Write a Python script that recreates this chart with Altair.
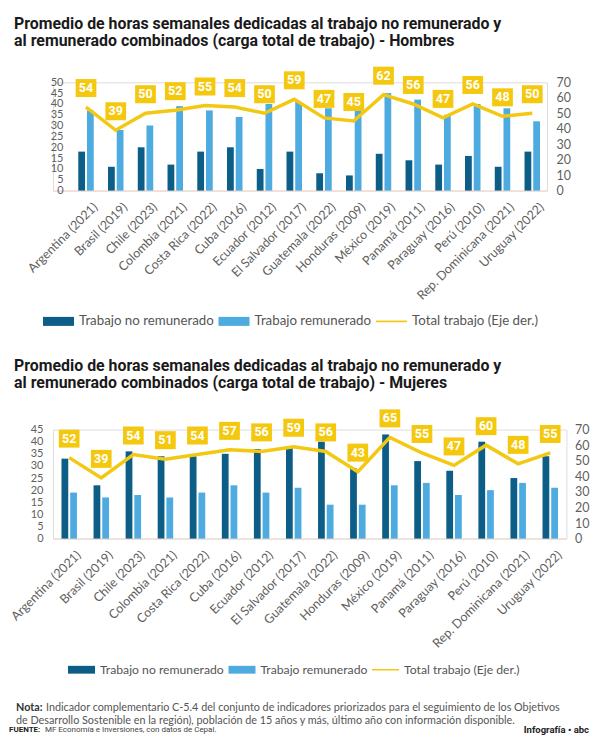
import altair as alt
import pandas as pd

countries = ["Argentina (2021)", "Brasil (2019)", "Chile (2023)", "Colombia (2021)",
             "Costa Rica (2022)", "Cuba (2016)", "Ecuador (2012)", "El Salvador (2017)",
             "Guatemala (2022)", "Honduras (2009)", "México (2019)", "Panamá (2011)",
             "Paraguay (2016)", "Perú (2010)", "Rep. Dominicana (2021)", "Uruguay (2022)"]

# Hombres
no_rem_h = [18, 11, 20, 12, 18, 20, 10, 18, 8, 7, 17, 14, 12, 16, 11, 18]
rem_h = [37, 28, 30, 39, 37, 34, 40, 41, 38, 37, 45, 42, 35, 40, 38, 32]
total_h = [54, 39, 50, 52, 55, 54, 50, 59, 47, 45, 62, 56, 47, 56, 48, 50]

# Mujeres
no_rem_m = [33, 22, 36, 34, 34, 35, 37, 38, 40, 29, 43, 32, 28, 40, 25, 34]
rem_m = [19, 17, 18, 17, 19, 22, 19, 21, 14, 14, 22, 23, 18, 20, 23, 21]
total_m = [52, 39, 54, 51, 54, 57, 56, 59, 56, 43, 65, 55, 47, 60, 48, 55]

left_ticks_h = [0, 5, 10, 15, 20, 25, 30, 35, 40, 45, 50]
left_ticks_m = [0, 5, 10, 15, 20, 25, 30, 35, 40, 45]
right_ticks = [0, 10, 20, 30, 40, 50, 60, 70]

S_NO = "Trabajo no remunerado"
S_RE = "Trabajo remunerado"
S_TOT = "Total trabajo (Eje der.)"
series_domain = [S_NO, S_RE, S_TOT]
series_colors = ["#0d5e87", "#4eabe0", "#f3c812"]

title_h = ["Promedio de horas semanales dedicadas al trabajo no remunerado y",
           "al remunerado combinados (carga total de trabajo) - Hombres"]
title_m = ["Promedio de horas semanales dedicadas al trabajo no remunerado y",
           "al remunerado combinados (carga total de trabajo) - Mujeres"]

nota_label = "Nota:"
nota_1 = "Indicador complementario C-5.4 del conjunto de indicadores priorizados para el seguimiento de los Objetivos"
nota_2 = "de Desarrollo Sostenible en la región), población de 15 años y más, último año con información disponible."
fuente_label = "FUENTE:"
fuente_text = "MF Economía e Inversiones, con datos de Cepal."
credit = "Infografía • abc"

RECT = "M-1,-0.29L1,-0.29L1,0.29L-1,0.29Z"
LINE = "M-1,-0.055L1,-0.055L1,0.055L-1,0.055Z"
BOX = "M-1.15,-1L1.15,-1L1.15,1L-1.15,1Z"

AX_FONT = "Lato"
AX_COLOR = "#5f5f5f"
TITLE_FONT = "Roboto"


def long_df(no_rem, rem):
    rows = []
    for c, a, b in zip(countries, no_rem, rem):
        rows.append({"pais": c, "serie": S_NO, "horas": a})
        rows.append({"pais": c, "serie": S_RE, "horas": b})
    return pd.DataFrame(rows)


def tot_df(total):
    return pd.DataFrame({"pais": countries, "serie": [S_TOT] * len(countries), "horas": total})


one = pd.DataFrame({"k": [0]})


def txt(text, x, y, font, size, color, weight="normal", align="left", baseline="middle"):
    return alt.Chart(one).mark_text(text=text, font=font, fontSize=size, fontWeight=weight,
                                    align=align, baseline=baseline, color=color).encode(
        x=alt.value(x), y=alt.value(y))


def panel(no_rem, rem, total, title_lines, left_max, left_ticks, width, height,
          pad_in, pad_out, align, off_pad, left_offset, left_pad, right_pad,
          legend_x, legend_y, sym, leg_font, title_y, left_font):
    color_scale = alt.Scale(domain=series_domain, range=series_colors)
    shape_scale = alt.Scale(domain=series_domain, range=[RECT, RECT, LINE])
    legend = alt.Legend(orient="none", legendX=legend_x, legendY=legend_y,
                        direction="horizontal", title=None, padding=0,
                        labelFont=AX_FONT, labelFontSize=leg_font, labelColor="#555555",
                        symbolSize=sym * sym, symbolStrokeWidth=0, symbolOpacity=1,
                        labelOffset=5, columnPadding=4.5, labelLimit=300)

    x_enc = alt.X("pais:N", sort=countries, title=None,
                  scale=alt.Scale(paddingInner=pad_in, paddingOuter=pad_out, align=align),
                  axis=alt.Axis(labelAngle=-45, labelAlign="right", labelBaseline="middle",
                                labelFont=AX_FONT, labelFontSize=12.5, labelColor=AX_COLOR,
                                ticks=False, tickSize=0, labelPadding=14, labelOffset=9.5,
                                domainColor="#f0dcd4", domainWidth=1.5, labelLimit=300,
                                labelOverlap=False))

    bars = alt.Chart(long_df(no_rem, rem)).mark_bar().encode(
        x=x_enc,
        xOffset=alt.XOffset("serie:N", sort=[S_NO, S_RE],
                            scale=alt.Scale(paddingInner=off_pad, paddingOuter=0)),
        y=alt.Y("horas:Q", title=None,
                scale=alt.Scale(domain=[0, left_max], nice=False),
                axis=alt.Axis(orient="left", values=left_ticks, grid=False, domain=False,
                              ticks=False, tickSize=0, labelPadding=left_pad, offset=left_offset,
                              labelFont=AX_FONT, labelFontSize=left_font, labelColor=AX_COLOR,
                              labelOverlap=False)),
        color=alt.Color("serie:N", scale=color_scale, legend=legend),
    )

    tdf = tot_df(total)
    y_right = alt.Y("horas:Q", title=None,
                    scale=alt.Scale(domain=[0, 70], nice=False),
                    axis=alt.Axis(orient="right", values=right_ticks, grid=False, domain=False,
                                  ticks=False, tickSize=0, labelPadding=right_pad,
                                  labelFont=AX_FONT, labelFontSize=12.5, labelColor=AX_COLOR,
                                  labelOverlap=False))
    line = alt.Chart(tdf).mark_line(strokeWidth=3.5).encode(
        x=x_enc,
        y=y_right,
        color=alt.Color("serie:N", scale=color_scale, legend=legend),
    )
    boxes = alt.Chart(tdf).mark_point(shape=BOX, filled=True, size=324, opacity=1,
                                      color="#f4c80e", yOffset=-19).encode(
        x=x_enc,
        y=y_right,
    )
    labels = alt.Chart(tdf).mark_text(color="white", font="Roboto", fontWeight="bold",
                                      fontSize=12.5, dy=-19, baseline="middle").encode(
        x=x_enc,
        y=y_right,
        text=alt.Text("horas:Q"),
    )
    legend_pts = alt.Chart(tdf).mark_point(filled=True).encode(
        color=alt.Color("serie:N", scale=color_scale, legend=legend),
        shape=alt.Shape("serie:N", scale=shape_scale, legend=legend),
    ).transform_filter("false")

    right = alt.layer(line, boxes, labels, legend_pts)

    t1 = txt(title_lines[0], -39, title_y, TITLE_FONT, 15.9, "#1a1a1a", "bold", baseline="alphabetic")
    t2 = txt(title_lines[1], -39, title_y + 17, TITLE_FONT, 15.9, "#1a1a1a", "bold", baseline="alphabetic")

    return alt.layer(bars, right, t1, t2).resolve_scale(y="independent").properties(
        width=width, height=height)


top = panel(no_rem_h, rem_h, total_h, title_h, 50, left_ticks_h, 494, 108.3,
            0.48, 0.5425, 0.783, 0.222, -18, 8, 9, -10, 223.5, 31, 13.3, -53.4, 11)

bottom = panel(no_rem_m, rem_m, total_m, title_m, 45, left_ticks_m, 513.4, 109,
               0.52, 0.2645, 0.5, 0.0, 0, 10, 8, 15, 226.5, 27, 12.2, -58.3, 11)

footer = [
    txt(nota_label, -37, 278.4, AX_FONT, 10.8, "#333333", "bold"),
    txt(nota_1, -7, 278.4, AX_FONT, 10.8, "#555555"),
    txt(nota_2, -37, 291.7, AX_FONT, 10.8, "#555555"),
    txt(fuente_label, -44, 300.5, TITLE_FONT, 8, "#222222", "bold"),
    txt(fuente_text, -8, 300.5, TITLE_FONT, 8, "#444444"),
    txt(credit, 536, 300.5, TITLE_FONT, 9.5, "#222222", "bold", align="right"),
]

bottom = alt.layer(bottom, *footer)

chart = alt.vconcat(top, bottom, spacing=238.3, bounds="flush").resolve_scale(
    color="independent", shape="independent", x="independent"
).properties(
    padding={"left": 0, "top": 7.3, "right": 0, "bottom": 0}
).configure_view(stroke=None).configure(background="white")

chart.save("out.html", embed_options={"renderer": "svg", "actions": False})
